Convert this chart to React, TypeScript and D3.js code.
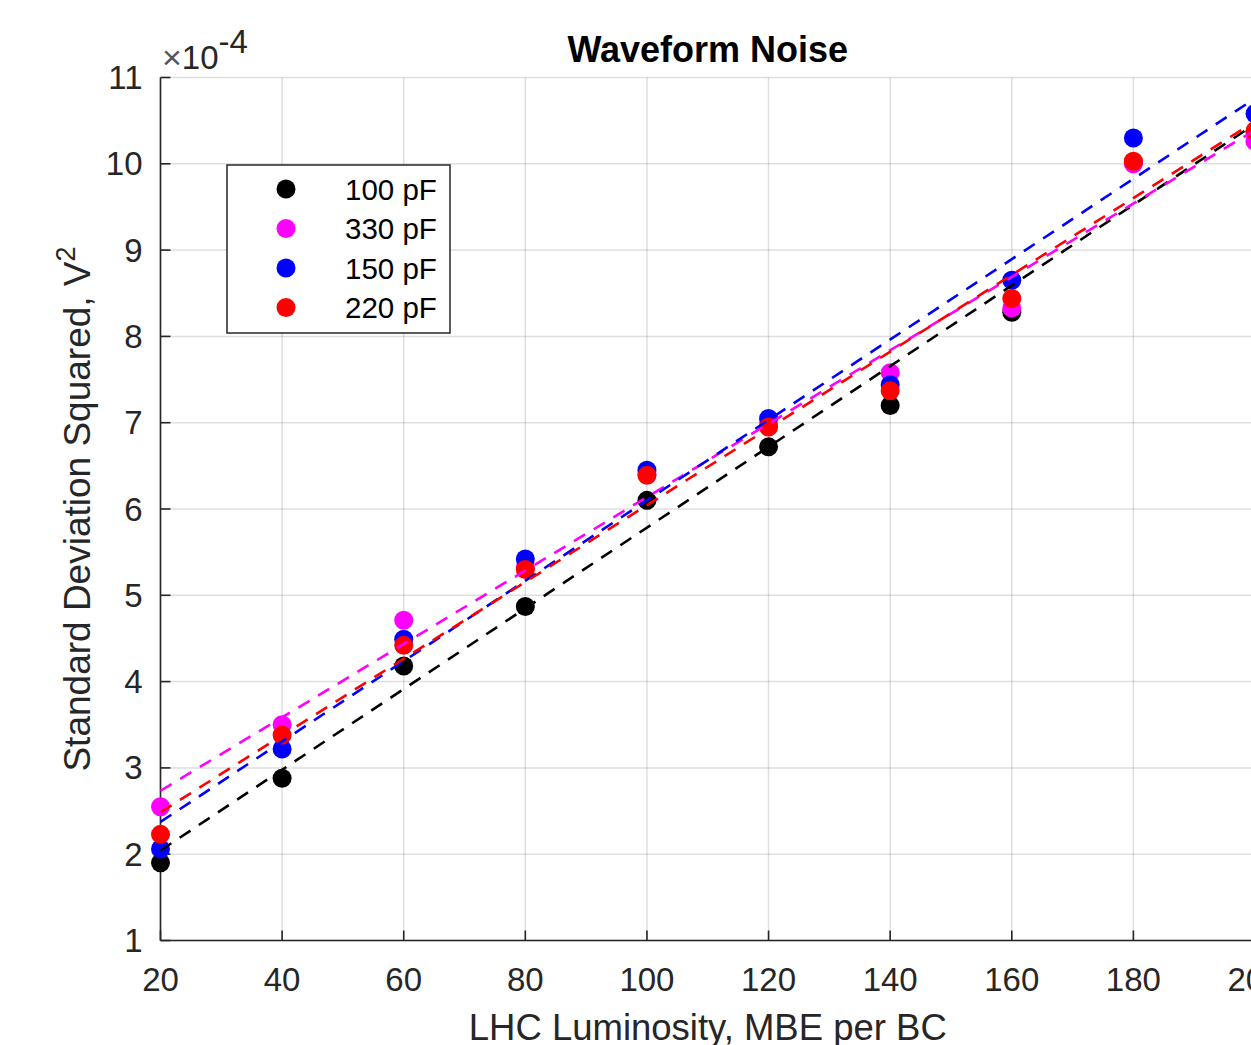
import React from 'react';
import * as d3 from 'd3';

// luminosity (MBE per BC)
const luminosity = [20, 40, 60, 80, 100, 120, 140, 160, 180, 200];

// standard deviation squared, in units of 1e-4 V^2
const cap100 = [1.9, 2.88, 4.18, 4.87, 6.1, 6.72, 7.2, 8.28, 10.02, 10.37];
const cap330 = [2.55, 3.5, 4.71, 5.32, 6.4, 6.98, 7.58, 8.33, 10.0, 10.26];
const cap150 = [2.06, 3.22, 4.49, 5.42, 6.45, 7.05, 7.44, 8.65, 10.3, 10.58];
const cap220 = [2.23, 3.38, 4.42, 5.3, 6.39, 6.95, 7.37, 8.44, 10.03, 10.38];

const seriesNames = ['100 pF', '330 pF', '150 pF', '220 pF'];
const seriesColors = ['#000000', '#ff00ff', '#0000ff', '#ff0000'];
const seriesValues = [cap100, cap330, cap150, cap220];

const xTicks = [20, 40, 60, 80, 100, 120, 140, 160, 180, 200];
const yTicks = [1, 2, 3, 4, 5, 6, 7, 8, 9, 10, 11];

const W = 1251;
const H = 1045;
const FONT = '"Liberation Sans", Arial, Helvetica, sans-serif';
const AX = '#262626';

// least squares line, same as polyfit(x, y, 1)
function fitLine(xs: number[], ys: number[]) {
  const mx = d3.mean(xs) as number;
  const my = d3.mean(ys) as number;
  const sxy = d3.sum(xs, (x, i) => (x - mx) * (ys[i] - my));
  const sxx = d3.sum(xs, (x) => (x - mx) * (x - mx));
  const slope = sxy / sxx;
  return (x: number) => my + slope * (x - mx);
}

const App: React.FC = () => {
  const x = d3.scaleLinear().domain([20, 200]).range([160.5, 1255]);
  const y = d3.scaleLinear().domain([1, 11]).range([940.5, 77.5]);
  const [x0, x1] = x.range();
  const [yb, yt] = y.range();

  const series = seriesNames.map((name, i) => {
    const f = fitLine(luminosity, seriesValues[i]);
    return {
      name,
      color: seriesColors[i],
      values: seriesValues[i],
      path: d3
        .line<number>()
        .x((d) => x(d))
        .y((d) => y(f(d)))(x.domain()) as string,
    };
  });

  const legendX = 227;
  const legendY = 165;
  const legendRow = 39.5;

  return (
    <svg
      width={W}
      height={H}
      style={{ position: 'absolute', left: 0, top: 0, background: '#fff' }}
      fontFamily={FONT}
    >
      <rect x={0} y={0} width={W} height={H} fill='#fff' />

      {/* grid */}
      <g stroke={AX} strokeOpacity={0.15} strokeWidth={1.5}>
        {xTicks.map((t) => (
          <line key={'gx' + t} x1={x(t)} x2={x(t)} y1={yb} y2={yt} />
        ))}
        {yTicks.map((t) => (
          <line key={'gy' + t} x1={x0} x2={x1} y1={y(t)} y2={y(t)} />
        ))}
      </g>

      {/* axes */}
      <g stroke={AX} strokeWidth={1.6}>
        <line x1={x0} x2={x1} y1={yb} y2={yb} />
        <line x1={x0} x2={x0} y1={yb} y2={yt} />
        {xTicks.map((t) => (
          <line key={'tx' + t} x1={x(t)} x2={x(t)} y1={yb} y2={yb - 10} />
        ))}
        {yTicks.map((t) => (
          <line key={'ty' + t} x1={x0} x2={x0 + 10} y1={y(t)} y2={y(t)} />
        ))}
      </g>

      <g fill={AX} fontSize={33}>
        {xTicks.map((t) => (
          <text key={'lx' + t} x={x(t)} y={yb + 50} textAnchor='middle'>
            {t}
          </text>
        ))}
        {yTicks.map((t) => (
          <text
            key={'ly' + t}
            x={x0 - 18}
            y={y(t)}
            textAnchor='end'
            dominantBaseline='central'
          >
            {t}
          </text>
        ))}
        <text x={162} y={69}>
          <tspan fontSize={34} fill='#555'>×</tspan>10
          <tspan dy={-16}>-4</tspan>
        </text>
      </g>

      {/* points first, then the fitted lines */}
      {series.map((s) => (
        <g key={'p' + s.name} fill={s.color}>
          {s.values.map((v, j) => (
            <circle key={j} cx={x(luminosity[j])} cy={y(v)} r={9.5} />
          ))}
        </g>
      ))}
      {series.map((s) => (
        <path
          key={'l' + s.name}
          d={s.path}
          fill='none'
          stroke={s.color}
          strokeWidth={2.6}
          strokeDasharray='13 10'
        />
      ))}

      {/* title and labels */}
      <text
        x={(x0 + x1) / 2}
        y={62}
        textAnchor='middle'
        fontSize={36}
        fontWeight='bold'
        fill='#000'
      >
        Waveform Noise
      </text>
      <text x={(x0 + x1) / 2} y={1040} textAnchor='middle' fontSize={36.5} fill={AX}>
        LHC Luminosity, MBE per BC
      </text>
      <text
        transform='translate(90,509) rotate(-90)'
        textAnchor='middle'
        fontSize={37}
        fill={AX}
      >
        Standard Deviation Squared, V
        <tspan fontSize={27} dy={-15}>
          2
        </tspan>
      </text>

      {/* legend */}
      <g>
        <rect
          x={legendX}
          y={legendY}
          width={223}
          height={168}
          fill='#fff'
          stroke={AX}
          strokeWidth={1.5}
        />
        {series.map((s, i) => (
          <g key={'lg' + s.name}>
            <circle cx={286} cy={legendY + 24 + i * legendRow} r={9.5} fill={s.color} />
            <text
              x={345}
              y={legendY + 24 + i * legendRow}
              dominantBaseline='central'
              fontSize={29.5}
              fill='#000'
            >
              {s.name}
            </text>
          </g>
        ))}
      </g>
    </svg>
  );
};

export default App;
